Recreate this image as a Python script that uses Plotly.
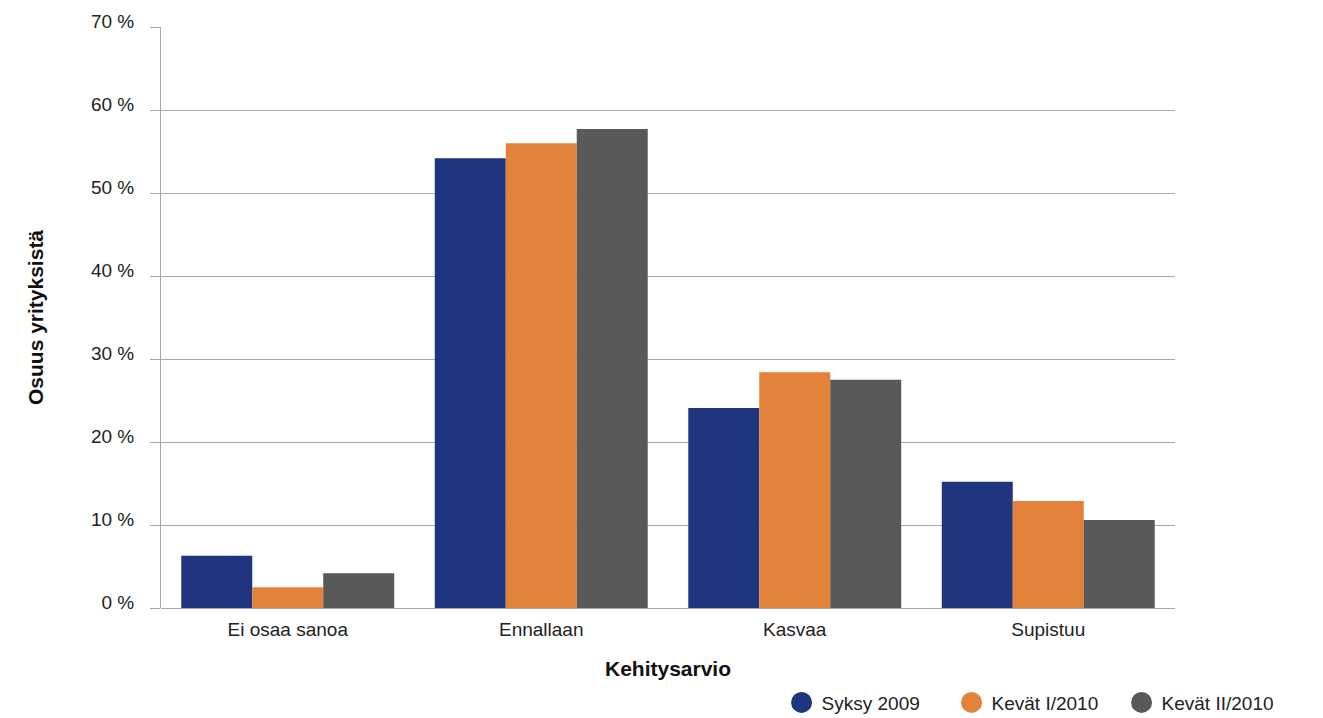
import plotly.graph_objects as go

categories = ["Ei osaa sanoa", "Ennallaan", "Kasvaa", "Supistuu"]
series_names = ["Syksy 2009", "Kevät I/2010", "Kevät II/2010"]
syksy_2009 = [6.3, 54.2, 24.1, 15.2]
kevat_I_2010 = [2.5, 56.0, 28.4, 12.9]
kevat_II_2010 = [4.2, 57.7, 27.5, 10.6]
colors = ["#1F3580", "#E3833B", "#595957"]
y_tickvals = [0, 10, 20, 30, 40, 50, 60, 70]
y_ticktext = ["0 %", "10 %", "20 %", "30 %", "40 %", "50 %", "60 %", "70 %"]

fig = go.Figure()
for name, vals, col in zip(series_names, [syksy_2009, kevat_I_2010, kevat_II_2010], colors):
    fig.add_trace(go.Bar(x=categories, y=vals, name=name, marker_color=col,
                         marker_line_width=0, showlegend=False))
    fig.add_trace(go.Scatter(x=[None], y=[None], mode="markers", name=name,
                             marker=dict(symbol="circle", size=30, color=col,
                                         line=dict(color=col, width=6))))

font = "Liberation Sans, Arial, sans-serif"
fig.update_layout(
    width=1323, height=718,
    margin=dict(l=153, r=156, t=19, b=118, autoexpand=False),
    paper_bgcolor="white", plot_bgcolor="white",
    barmode="group", bargap=0.16, bargroupgap=0,
    font=dict(family=font, size=19, color="#222222"),
    legend=dict(orientation="h", x=0.612, y=-0.13, xanchor="left", yanchor="top",
                font=dict(size=19, color="#222222"), itemsizing="trace",
                entrywidth=125, entrywidthmode="pixels"),
    xaxis=dict(title=dict(text="<b>Kehitysarvio</b>", font=dict(size=21, color="#111111"), standoff=22),
               showline=False, showgrid=False, ticks="", tickfont=dict(size=19),
               ticklabelstandoff=8),
    yaxis=dict(title=dict(text="<b>Osuus yrityksistä</b>", font=dict(size=21, color="#111111"), standoff=41),
               range=[0, 70], tickvals=y_tickvals, ticktext=y_ticktext,
               showgrid=True, gridcolor="#A8A8A8", gridwidth=1,
               showline=True, linecolor="#A8A8A8", linewidth=1,
               ticks="outside", ticklen=10, tickcolor="#A8A8A8",
               zeroline=True, zerolinecolor="#A8A8A8", zerolinewidth=1,
               ticklabelstandoff=12, ticklabelshift=-6,
               tickfont=dict(size=19)),
)
fig.write_html("out.html")
